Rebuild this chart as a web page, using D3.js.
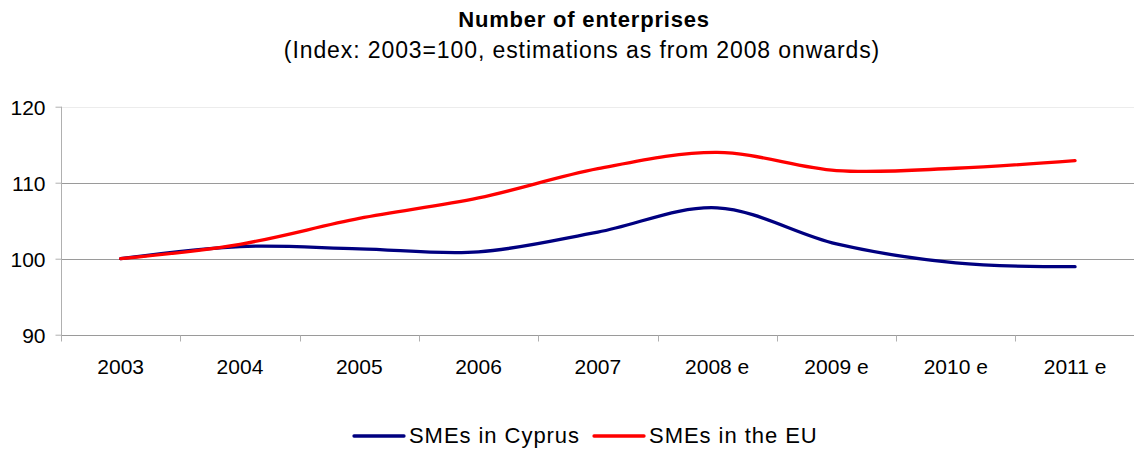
<!DOCTYPE html>
<html>
<head>
<meta charset="utf-8">
<script src="https://cdn.jsdelivr.net/npm/d3@7"></script>
<style>
  html, body { margin: 0; padding: 0; background: #fff; }
  svg { display: block; font-family: "Liberation Sans", Arial, sans-serif; }
</style>
</head>
<body>
<svg id="chart" width="1134" height="450"></svg>
<script>
// Index of number of enterprises, 2003 = 100 (2008 onwards are estimates)
const years = ["2003", "2004", "2005", "2006", "2007", "2008 e", "2009 e", "2010 e", "2011 e"];
const smesCyprus = [100, 101.6, 101.3, 100.9, 103.5, 106.7, 101.95, 99.45, 98.95];
const smesEU = [100, 101.9, 105.3, 108.0, 111.85, 114.0, 111.6, 111.9, 112.9];
const yTicks = [90, 100, 110, 120];
const seriesNames = ["SMEs in Cyprus", "SMEs in the EU"];
const seriesColors = ["#000080", "#ff0000"];

const series = [
  { name: seriesNames[0], color: seriesColors[0], values: smesCyprus },
  { name: seriesNames[1], color: seriesColors[1], values: smesEU }
];

const svg = d3.select("#chart");
svg.append("rect").attr("width", 1134).attr("height", 450).attr("fill", "#fff");

const plotLeft = 61, plotRight = 1134.7, plotTop = 106.7, plotBottom = 334.7;

const x = d3.scaleBand().domain(years).range([plotLeft, plotRight]).padding(0);
const y = d3.scaleLinear().domain([90, 120]).range([plotBottom, plotTop]);
const cx = d => x(d) + x.bandwidth() / 2;

// Titles
svg.append("text")
  .attr("x", 584).attr("y", 26.5)
  .attr("text-anchor", "middle")
  .style("font-size", "22px").style("font-weight", "bold").style("letter-spacing", "0.8px")
  .attr("fill", "#000")
  .text("Number of enterprises");
svg.append("text")
  .attr("x", 582).attr("y", 58)
  .attr("text-anchor", "middle")
  .style("font-size", "23px").style("letter-spacing", "0.9px")
  .attr("fill", "#000")
  .text("(Index: 2003=100, estimations as from 2008 onwards)");

// Horizontal gridlines
svg.append("g").selectAll("line")
  .data(yTicks)
  .join("line")
  .attr("x1", plotLeft).attr("x2", plotRight)
  .attr("y1", d => Math.round(y(d)) + 0.5).attr("y2", d => Math.round(y(d)) + 0.5)
  .attr("stroke", d => d === 120 ? "#ececec" : "#9a9a9a")
  .attr("stroke-width", 1);

// Y axis
const yAxis = svg.append("g")
  .attr("transform", `translate(${Math.round(plotLeft) + 0.5},0)`)
  .call(d3.axisLeft(y).tickValues(yTicks).tickSize(6).tickPadding(10).tickFormat(d3.format("d")));
yAxis.select(".domain").attr("stroke", "#b0b0b0").attr("d", `M0,${y(120)}V${Math.round(y(90)) + 0.5}`);
yAxis.selectAll(".tick line").attr("stroke", "#b0b0b0");
yAxis.selectAll(".tick text")
  .style("font-size", "21px").style("font-family", "'Liberation Sans', Arial, sans-serif")
  .attr("fill", "#000").attr("dy", "0.35em");

// X axis: category labels centred in bands, ticks on band boundaries
const xAxis = svg.append("g")
  .attr("transform", `translate(0,${Math.round(y(90)) + 0.5})`)
  .call(d3.axisBottom(x).tickSize(0).tickPadding(0));
xAxis.select(".domain").remove();
xAxis.selectAll(".tick text")
  .style("font-size", "21px").style("font-family", "'Liberation Sans', Arial, sans-serif")
  .attr("fill", "#000").attr("y", 38.5).attr("dy", 0);
xAxis.selectAll("line.boundary")
  .data(years.slice(1))
  .join("line")
  .attr("class", "boundary")
  .attr("x1", d => Math.round(x(d)) + 0.5).attr("x2", d => Math.round(x(d)) + 0.5)
  .attr("y1", 0).attr("y2", 6)
  .attr("stroke", "#b0b0b0");
xAxis.append("line")
  .attr("x1", Math.round(plotLeft) + 0.5).attr("x2", Math.round(plotLeft) + 0.5)
  .attr("y1", 0).attr("y2", 6)
  .attr("stroke", "#b0b0b0");

// Smoothed series lines
const line = d3.line()
  .x((v, i) => cx(years[i]))
  .y(v => y(v))
  .curve(d3.curveCatmullRom.alpha(0));

svg.append("g").selectAll("path")
  .data(series)
  .join("path")
  .attr("d", s => line(s.values))
  .attr("fill", "none")
  .attr("stroke", s => s.color)
  .attr("stroke-width", 3.3)
  .attr("stroke-linecap", "round")
  .attr("stroke-linejoin", "round");

// Legend
const legend = svg.append("g").attr("transform", "translate(354,436)");
let offset = 0;
series.forEach(s => {
  const g = legend.append("g").attr("transform", `translate(${offset},0)`);
  g.append("line")
    .attr("x1", 0).attr("x2", 50).attr("y1", 0).attr("y2", 0)
    .attr("stroke", s.color).attr("stroke-width", 3.3).attr("stroke-linecap", "round");
  const t = g.append("text")
    .attr("x", 55).attr("y", 7)
    .style("font-size", "22px").style("letter-spacing", "0.95px")
    .attr("fill", "#000")
    .text(s.name);
  offset += 55 + t.node().getComputedTextLength() + 14;
});
</script>
</body>
</html>
